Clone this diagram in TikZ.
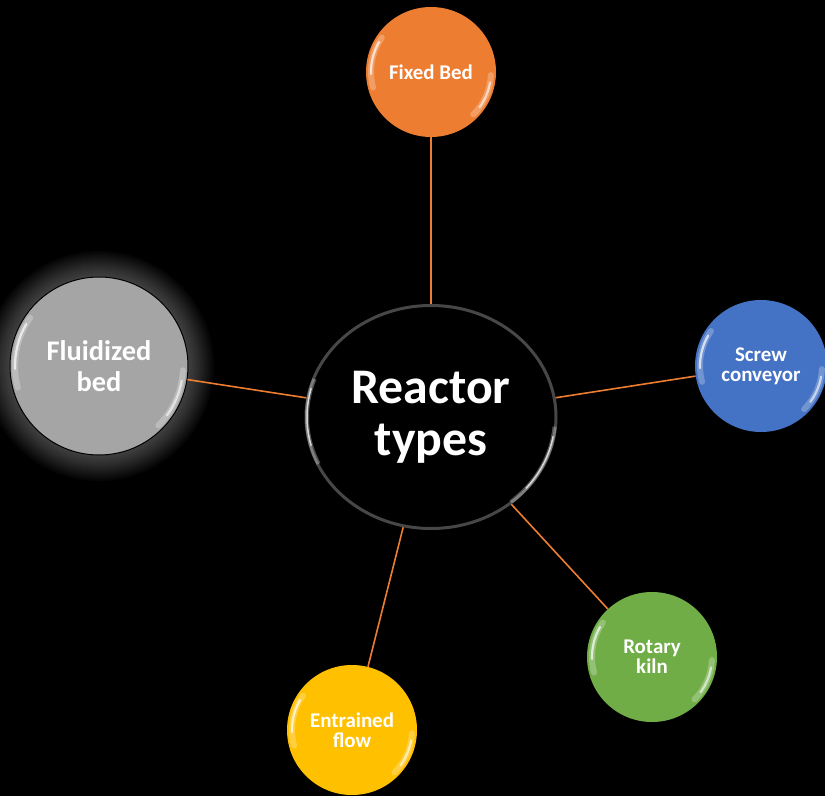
\documentclass[tikz,border=0pt]{standalone}
\usepackage{fontspec}
\setmainfont{Carlito}
\usetikzlibrary{shapes.geometric,calc}
\definecolor{cOrange}{HTML}{ED7D31}
\definecolor{cBlue}{HTML}{4472C4}
\definecolor{cGreen}{HTML}{70AD47}
\definecolor{cYellow}{HTML}{FFC000}
\definecolor{cGray}{HTML}{A5A5A5}
\definecolor{cRim}{HTML}{474747}
\newcommand\bubblegloss[2]{%
  \pgfmathsetmacro\gr{#2-5}%
  \draw[white, opacity=0.25, line width=6bp, line cap=round] (#1.center) ++(145:\gr) arc[start angle=145, end angle=195, radius=\gr];
  \draw[white, opacity=0.7, line width=2.2bp, line cap=round] (#1.center) ++(150:\gr) arc[start angle=150, end angle=182, radius=\gr];
  \draw[white, opacity=0.25, line width=6bp, line cap=round] (#1.center) ++(-3:\gr) arc[start angle=-3, end angle=-45, radius=\gr];
  \draw[white, opacity=0.6, line width=2.2bp, line cap=round] (#1.center) ++(-10:\gr) arc[start angle=-10, end angle=-36, radius=\gr];
}
\begin{document}
\begin{tikzpicture}[x=1bp,y=1bp,
  bubble/.style={circle, minimum size=130bp, inner sep=0pt, text=white,
    font=\bfseries\fontsize{21}{20}\selectfont, align=center},
  link/.style={draw=cOrange, line width=1.6bp}]
\fill[black] (0,0) rectangle (825,-796);
\useasboundingbox (0,0) rectangle (825,-796);
% glow behind fluidized bed
\coordinate (flc) at (99,-366);
\foreach \k in {1,...,13} \fill[white, opacity=0.022] (flc) circle (89+2*\k);
% nodes
\node[ellipse, fill=black, draw=cRim, line width=3bp, minimum width=250bp, minimum height=223bp,
      inner sep=0pt, text=white, align=center, font=\bfseries\fontsize{50}{52}\selectfont]
      (rt) at (431,-417) {Reactor\\types};
\node[bubble, fill=cOrange] (fb) at (431,-72) {Fixed Bed};
\node[bubble, fill=cGray, draw=black, line width=1bp, minimum size=178bp,
      font=\bfseries\fontsize{28.5}{31}\selectfont] (fl) at (flc) {\raisebox{0pt}{}Fluidized\\bed};
\node[bubble, fill=cBlue, minimum size=132bp] (sc) at (761,-366) {Screw\\conveyor};
\node[bubble, fill=cGreen] (rk) at (652,-657) {Rotary\\kiln};
\node[bubble, fill=cYellow] (ef) at (352,-730) {Entrained\\flow};
% gloss
\bubblegloss{fb}{65}
\bubblegloss{fl}{89}
\bubblegloss{sc}{66}
\bubblegloss{rk}{65}
\bubblegloss{ef}{65}
\draw[white, opacity=0.3, line width=4bp] (rt.center) ++(160:124 and 111) arc[start angle=160, end angle=205, x radius=124, y radius=111];
\draw[white, opacity=0.7, line width=1.5bp] (rt.center) ++(165:124 and 111) arc[start angle=165, end angle=195, x radius=124, y radius=111];
\draw[white, opacity=0.3, line width=4bp] (rt.center) ++(-5:124 and 111) arc[start angle=-5, end angle=-50, x radius=124, y radius=111];
\draw[white, opacity=0.7, line width=1.5bp] (rt.center) ++(-10:124 and 111) arc[start angle=-10, end angle=-40, x radius=124, y radius=111];
% links
\draw[link] (rt) -- (fb);
\draw[link] (rt) -- (fl);
\draw[link] (rt) -- (sc);
\draw[link] (rt) -- (rk);
\draw[link] (rt) -- (ef);
\end{tikzpicture}
\end{document}
